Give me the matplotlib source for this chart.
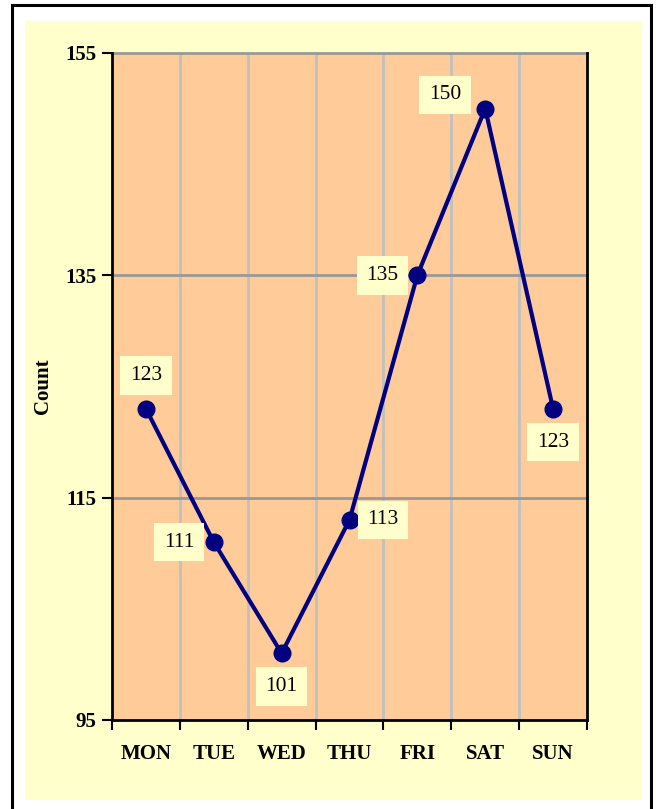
import matplotlib
matplotlib.use("Agg")
import matplotlib.pyplot as plt
from matplotlib.patches import Rectangle
import numpy as np

days = ["MON", "TUE", "WED", "THU", "FRI", "SAT", "SUN"]
counts = [123, 111, 101, 113, 135, 150, 123]
yticks = [95, 115, 135, 155]
# label offsets (points) relative to each point
label_offsets = [(0, 24), (-25, 0), (0, -24), (24, 0), (-25, 0), (-29, 10), (0, -24)]

fig = plt.figure(figsize=(6.56, 8.09), dpi=100)
fig.patch.set_facecolor("white")

# outer frame
fig.add_artist(Rectangle((12/656, -0.02), (651-12)/656, 1-5/809+0.02,
                         transform=fig.transFigure, facecolor="none",
                         edgecolor="black", linewidth=2.2, zorder=0))
# yellow chart area
fig.add_artist(Rectangle((25/656, 1-800/809), (642-25)/656, (800-21)/809,
                         transform=fig.transFigure, facecolor="#FFFFCC",
                         edgecolor="none", zorder=0))

ax = fig.add_axes([112/656, 1-720/809, 475/656, 667/809])
ax.set_facecolor("#FFCC99")

x = np.arange(len(days)) + 0.5
ax.plot(x, counts, color="#000080", linewidth=3, marker="o", markersize=12,
        zorder=5, clip_on=False)

for xi, v, (dx, dy) in zip(x, counts, label_offsets):
    ax.annotate(str(v), (xi, v), xytext=(dx, dy), textcoords="offset points",
                ha="center", va="center", fontsize=15.5, family="Liberation Serif",
                bbox=dict(boxstyle="square,pad=0.45", facecolor="#FFFFCC", edgecolor="none"),
                zorder=6)

ax.set_xlim(0, len(days))
ax.set_ylim(95, 155)

# y axis
ax.set_yticks(yticks)
ax.set_yticklabels([str(t) for t in yticks], fontsize=15, fontweight="bold",
                   family="Liberation Serif")
ax.tick_params(axis="y", direction="out", length=7, width=1.5, pad=4)
ax.set_ylabel("Count", fontsize=15, fontweight="bold", family="Liberation Serif", labelpad=9)

# x axis: ticks at boundaries, labels at centers
ax.set_xticks(np.arange(len(days) + 1))
ax.set_xticklabels([])
ax.set_xticks(x, minor=True)
ax.set_xticklabels(days, minor=True, fontsize=15, fontweight="bold", family="Liberation Serif")
ax.tick_params(axis="x", which="major", direction="out", length=7, width=1.5)
ax.tick_params(axis="x", which="minor", length=0, pad=17)

# grid
for b in range(1, len(days)):
    ax.axvline(b, color="#C0C0C0", linewidth=2, zorder=1)
for t in yticks[1:]:
    ax.axhline(t, color="#999999", linewidth=2, zorder=1, clip_on=False)

for s in ["left", "bottom", "right"]:
    ax.spines[s].set_linewidth(2)
    ax.spines[s].set_color("black")
ax.spines["top"].set_visible(False)

fig.savefig("out.png", dpi=100)
